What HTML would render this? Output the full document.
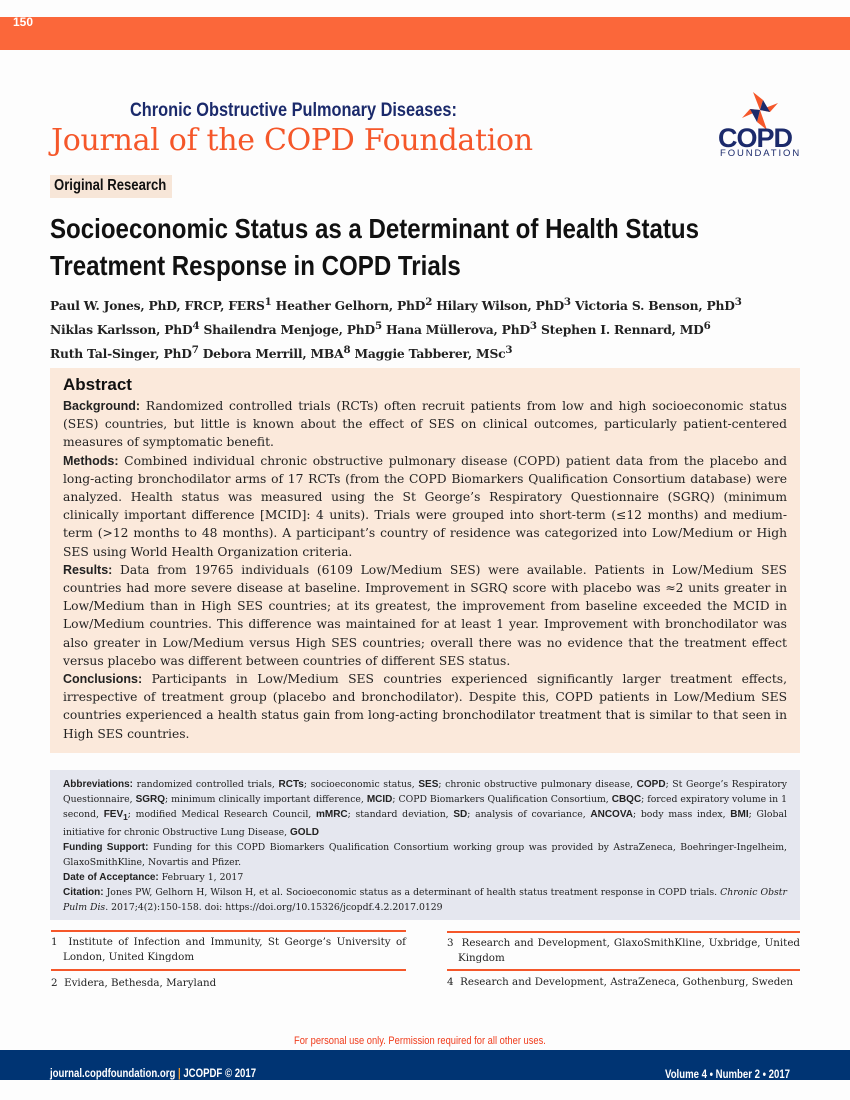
<!DOCTYPE html>
<html><head><meta charset="utf-8"><style>
*{margin:0;padding:0;box-sizing:border-box}
body{width:850px;height:1100px;background:#fdfdfd;position:relative;overflow:hidden;font-family:"DejaVu Serif",serif;color:#222}
.a{position:absolute}
.cond{font-family:"Liberation Sans Narrow","Liberation Sans",sans-serif;font-stretch:condensed}
.abs p{font-size:12.3px;line-height:18.2px;text-align:justify}
.abs b{font-family:"Liberation Sans",sans-serif;font-size:12.5px}
.abb p{font-size:9.3px;line-height:15px;text-align:justify}
.abb b{font-family:"Liberation Sans",sans-serif;font-size:10px}
.fn{font-size:10.3px;line-height:15px;text-align:justify}
</style></head><body>
<div class="a" style="left:0;top:17px;width:850px;height:33px;background:#fb673a"></div>
<div class="a cond" style="left:13px;top:15px;color:#fff;font-size:12px;font-weight:bold">150</div>
<div class="a cond" style="left:130px;top:100px;color:#1b2a6b;font-size:19px;font-weight:bold;transform:scaleX(.86);transform-origin:left;white-space:nowrap">Chronic Obstructive Pulmonary Diseases:</div>
<div class="a" style="left:51px;top:123px;color:#f5572a;font-size:30px;font-family:'DejaVu Serif',serif;letter-spacing:-0.3px;white-space:nowrap">Journal of the COPD Foundation</div>
<svg class="a" style="left:738px;top:90px" width="45" height="42" viewBox="0 0 45 42">
<polygon points="22,20 15,2 25,10" fill="#f5572a"/><polygon points="22,20 40,13 32,22" fill="#f5572a"/>
<polygon points="22,20 29,40 19,32" fill="#f5572a"/><polygon points="22,20 4,28 12,19" fill="#f5572a"/>
<polygon points="22,20 25,10 32,22" fill="#1b2a6b"/><polygon points="22,20 12,19 19,32" fill="#1b2a6b"/></svg>
<div class="a" style="left:718px;top:124px;color:#1b2a6b;font-size:27px;font-weight:bold;font-family:'Liberation Sans',sans-serif;letter-spacing:-1px;line-height:28px">COPD</div>
<div class="a cond" style="left:720px;top:149px;color:#1b2a6b;font-size:9.5px;letter-spacing:1.9px;line-height:10px">FOUNDATION</div>
<div class="a cond" style="left:50px;top:175px;width:122px;height:23px;background:#f7e6d8"></div>
<div class="a cond" style="left:54px;top:177px;font-size:16px;font-weight:bold;color:#111;transform:scaleX(.82);transform-origin:left;white-space:nowrap">Original Research</div>
<div class="a cond" style="left:50px;top:210px;font-size:28px;font-weight:bold;line-height:37px;color:#111;transform:scaleX(.86);transform-origin:left;white-space:nowrap">Socioeconomic Status as a Determinant of Health Status<br>Treatment Response in COPD Trials</div>
<div class="a" style="left:50px;top:292px;font-size:12.3px;font-weight:bold;line-height:20px;color:#222;white-space:nowrap;letter-spacing:-0.2px">Paul W. Jones, PhD, FRCP, FERS<sup>1</sup> Heather Gelhorn, PhD<sup>2</sup> Hilary Wilson, PhD<sup>3</sup> Victoria S. Benson, PhD<sup>3</sup><br>Niklas Karlsson, PhD<sup>4</sup> Shailendra Menjoge, PhD<sup>5</sup> Hana Müllerova, PhD<sup>3</sup> Stephen I. Rennard, MD<sup>6</sup><br>Ruth Tal-Singer, PhD<sup>7</sup> Debora Merrill, MBA<sup>8</sup> Maggie Tabberer, MSc<sup>3</sup></div>
<div class="a abs" style="left:50px;top:368px;width:750px;height:385px;background:#fbe9db;padding:7px 13px 0 13px">
<div style="font-family:'Liberation Sans',sans-serif;font-size:17px;font-weight:bold;color:#111;margin-bottom:2px">Abstract</div>
<p><b>Background:</b> Randomized controlled trials (RCTs) often recruit patients from low and high socioeconomic status (SES) countries, but little is known about the effect of SES on clinical outcomes, particularly patient-centered measures of symptomatic benefit.</p>
<p><b>Methods:</b> Combined individual chronic obstructive pulmonary disease (COPD) patient data from the placebo and long-acting bronchodilator arms of 17 RCTs (from the COPD Biomarkers Qualification Consortium database) were analyzed. Health status was measured using the St George’s Respiratory Questionnaire (SGRQ) (minimum clinically important difference [MCID]: 4 units). Trials were grouped into short-term (≤12 months) and medium-term (&gt;12 months to 48 months). A participant’s country of residence was categorized into Low/Medium or High SES using World Health Organization criteria.</p>
<p><b>Results:</b> Data from 19765 individuals (6109 Low/Medium SES) were available. Patients in Low/Medium SES countries had more severe disease at baseline. Improvement in SGRQ score with placebo was ≈2 units greater in Low/Medium than in High SES countries; at its greatest, the improvement from baseline exceeded the MCID in Low/Medium countries. This difference was maintained for at least 1 year. Improvement with bronchodilator was also greater in Low/Medium versus High SES countries; overall there was no evidence that the treatment effect versus placebo was different between countries of different SES status.</p>
<p><b>Conclusions:</b> Participants in Low/Medium SES countries experienced significantly larger treatment effects, irrespective of treatment group (placebo and bronchodilator). Despite this, COPD patients in Low/Medium SES countries experienced a health status gain from long-acting bronchodilator treatment that is similar to that seen in High SES countries.</p>
</div>
<div class="a abb" style="left:50px;top:770px;width:750px;height:150px;background:#e5e7ef;padding:7px 13px 0 13px">
<p><b>Abbreviations:</b> randomized controlled trials, <b>RCTs</b>; socioeconomic status, <b>SES</b>; chronic obstructive pulmonary disease, <b>COPD</b>; St George’s Respiratory Questionnaire, <b>SGRQ</b>; minimum clinically important difference, <b>MCID</b>; COPD Biomarkers Qualification Consortium, <b>CBQC</b>; forced expiratory volume in 1 second, <b>FEV<sub>1</sub></b>; modified Medical Research Council, <b>mMRC</b>; standard deviation, <b>SD</b>; analysis of covariance, <b>ANCOVA</b>; body mass index, <b>BMI</b>; Global initiative for chronic Obstructive Lung Disease, <b>GOLD</b></p>
<p><b>Funding Support:</b> Funding for this COPD Biomarkers Qualification Consortium working group was provided by AstraZeneca, Boehringer-Ingelheim, GlaxoSmithKline, Novartis and Pfizer.</p>
<p><b>Date of Acceptance:</b> February 1, 2017</p>
<p><b>Citation:</b> Jones PW, Gelhorn H, Wilson H, et al. Socioeconomic status as a determinant of health status treatment response in COPD trials. <i>Chronic Obstr Pulm Dis</i>. 2017;4(2):150-158. doi: https://doi.org/10.15326/jcopdf.4.2.2017.0129</p>
</div>
<div class="a" style="left:51px;top:930px;width:355px;height:2px;background:#f5572a"></div>
<div class="a fn" style="left:51px;top:935px;width:355px;padding-left:12px;text-indent:-12px">1&nbsp; Institute of Infection and Immunity, St George’s University of London, United Kingdom</div>
<div class="a" style="left:51px;top:969px;width:355px;height:2px;background:#f5572a"></div>
<div class="a fn" style="left:51px;top:976px">2&nbsp; Evidera, Bethesda, Maryland</div>
<div class="a" style="left:447px;top:931px;width:353px;height:2px;background:#f5572a"></div>
<div class="a fn" style="left:447px;top:936px;width:353px;padding-left:11px;text-indent:-11px">3&nbsp; Research and Development, GlaxoSmithKline, Uxbridge, United Kingdom</div>
<div class="a" style="left:447px;top:969px;width:353px;height:2px;background:#f5572a"></div>
<div class="a fn" style="left:447px;top:975px;white-space:nowrap">4&nbsp; Research and Development, AstraZeneca, Gothenburg, Sweden</div>
<div class="a cond" style="left:294px;top:1035px;color:#f03c1c;font-size:11px;transform:scaleX(.85);transform-origin:left;white-space:nowrap">For personal use only. Permission required for all other uses.</div>
<div class="a" style="left:0;top:1050px;width:850px;height:30px;background:#003473"></div>
<div class="a cond" style="left:50px;top:1066px;color:#fff;font-size:12px;font-weight:bold;transform:scaleX(.8);transform-origin:left;white-space:nowrap">journal.copdfoundation.org <span style="color:#f5a030">|</span> JCOPDF © 2017</div>
<div class="a cond" style="left:665px;top:1067px;color:#fff;font-size:12px;font-weight:bold;transform:scaleX(.8);transform-origin:left;white-space:nowrap">Volume 4 • Number 2 • 2017</div>
</body></html>
